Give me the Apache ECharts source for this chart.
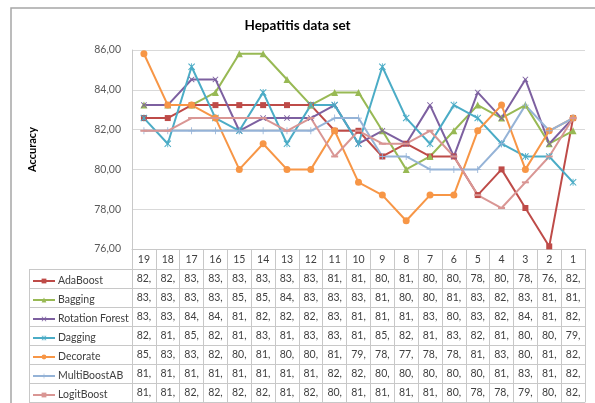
<!DOCTYPE html>
<html>
<head>
<meta charset="utf-8">
<style>
  html, body { margin: 0; padding: 0; background: #ffffff; }
  #chart { width: 595px; height: 403px; }
</style>
<script src="https://cdn.jsdelivr.net/npm/echarts@6/dist/echarts.min.js"></script>
</head>
<body>
<div id="chart"></div>
<script>
// Ensemble size (descending) and accuracy of each method on the Hepatitis data set
const categories = ['19','18','17','16','15','14','13','12','11','10','9','8','7','6','5','4','3','2','1'];
const adaBoost       = [82.58,82.58,83.23,83.23,83.23,83.23,83.23,83.23,81.94,81.94,80.65,81.29,80.65,80.65,78.71,80.00,78.06,76.13,82.58];
const bagging        = [83.23,83.23,83.23,83.87,85.81,85.81,84.52,83.23,83.87,83.87,81.94,80.00,80.65,81.94,83.23,82.58,83.23,81.29,81.94];
const rotationForest = [83.23,83.23,84.52,84.52,81.94,82.58,82.58,82.58,83.23,81.29,81.94,81.29,83.23,80.65,83.87,82.58,84.52,81.29,82.58];
const dagging        = [82.58,81.29,85.16,82.58,81.94,83.87,81.29,83.23,83.23,81.29,85.16,82.58,81.29,83.23,82.58,81.29,80.65,80.65,79.35];
const decorate       = [85.81,83.23,83.23,82.58,80.00,81.29,80.00,80.00,81.94,79.35,78.71,77.42,78.71,78.71,81.94,83.23,80.00,81.94,82.58];
const multiBoostAB   = [81.94,81.94,81.94,81.94,81.94,81.94,81.94,81.94,82.58,82.58,80.65,80.65,80.00,80.00,80.00,81.29,83.23,81.94,82.58];
const logitBoost     = [81.94,81.94,82.58,82.58,82.58,82.58,81.94,82.58,80.65,81.94,81.29,81.29,81.94,80.65,78.71,78.06,79.35,80.65,82.58];
const yTicks = { min: 76, max: 86, step: 2 };

const FONT = 'Lato, "Open Sans", sans-serif';
const LINE_GRAY = '#c8c8c8';
const GRID_GRAY = '#d9d9d9';

// plot geometry
const gridLeft = 132, gridRight = 10, gridTop = 50, gridBottom = 154;
const plotBottomY = 403 - gridBottom;   // 249
const headerH = 20, rowH = 19;

const SYM_X = 'path://M0,1L1,0L5,4L9,0L10,1L6,5L10,9L9,10L5,6L1,10L0,9L4,5Z';
const SYM_STAR = 'path://M0,1L1,0L4.4,3.4L4.4,0L5.6,0L5.6,3.4L9,0L10,1L6,5L10,9L9,10L5.6,6.6L5.6,10L4.4,10L4.4,6.6L1,10L0,9L4,5Z';
const SYM_PLUS = 'path://M4.4,0H5.6V4.4H10V5.6H5.6V10H4.4V5.6H0V4.4H4.4Z';
const SYM_DASH = 'path://M0,0H10V2H0Z';

const methods = [
  { name: 'AdaBoost',        data: adaBoost,       color: '#be4b48', symbol: 'rect',     size: 6 },
  { name: 'Bagging',         data: bagging,        color: '#98b954', symbol: 'triangle', size: 7 },
  { name: 'Rotation Forest', data: rotationForest, color: '#7d60a0', symbol: SYM_X,      size: 6 },
  { name: 'Dagging',         data: dagging,        color: '#4bacc6', symbol: SYM_STAR,   size: 7 },
  { name: 'Decorate',        data: decorate,       color: '#f79646', symbol: 'circle',   size: 7 },
  { name: 'MultiBoostAB',    data: multiBoostAB,   color: '#95b3d7', symbol: SYM_PLUS,   size: 7 },
  { name: 'LogitBoost',      data: logitBoost,     color: '#d99694', symbol: SYM_DASH,   size: [7, 2] }
];

// header axis (category numbers) plus one axis per data-table row
const xAxes = [{
  type: 'category', gridIndex: 0, position: 'bottom', offset: 0,
  data: categories, boundaryGap: true,
  axisLine: { show: true, lineStyle: { color: LINE_GRAY, width: 1 } },
  axisTick: { show: true, interval: 0, length: headerH, lineStyle: { color: LINE_GRAY } },
  axisLabel: { interval: 0, margin: 5, fontSize: 10.5, color: '#404040', fontFamily: FONT }
}];
methods.forEach((m, k) => {
  xAxes.push({
    type: 'category', gridIndex: 0, position: 'bottom', offset: headerH + rowH * k,
    data: categories, boundaryGap: true,
    axisLine: { show: true, lineStyle: { color: LINE_GRAY, width: 1 } },
    axisTick: { show: true, interval: 0, length: rowH, lineStyle: { color: LINE_GRAY } },
    axisLabel: {
      interval: 0, margin: 4, fontSize: 10.5, color: '#404040', fontFamily: FONT,
      formatter: (v, i) => Math.floor(m.data[i]) + ','
    }
  });
});
xAxes.push({
  type: 'category', gridIndex: 0, position: 'bottom', offset: headerH + rowH * methods.length,
  data: categories,
  axisLine: { show: true, lineStyle: { color: LINE_GRAY, width: 1 } },
  axisTick: { show: false }, axisLabel: { show: false }
});

// left column of the data table (legend keys live here)
const colLeft = 29;
const tableGraphics = [];
for (let k = 0; k <= methods.length; k++) {
  const y = plotBottomY + headerH + rowH * k + 0.5;
  tableGraphics.push({
    type: 'line', silent: true,
    shape: { x1: colLeft, y1: y, x2: gridLeft, y2: y },
    style: { stroke: LINE_GRAY, lineWidth: 1 }
  });
}
tableGraphics.push({
  type: 'line', silent: true,
  shape: { x1: colLeft + 0.5, y1: plotBottomY + headerH, x2: colLeft + 0.5, y2: 403 },
  style: { stroke: LINE_GRAY, lineWidth: 1 }
});
// chart area frame
tableGraphics.push({
  type: 'rect', silent: true,
  shape: { x: 11, y: 8, width: 620, height: 430 },
  style: { fill: 'none', stroke: '#a6a6a6', lineWidth: 1.5 }
});

// one legend per table row, so every key sits centred in its own row
const legendItemH = 6;
const legends = methods.map((m, k) => ({
  orient: 'horizontal', left: colLeft + 3,
  top: plotBottomY + headerH + rowH * k + (rowH - legendItemH) / 2,
  padding: 0, itemWidth: 22, itemHeight: legendItemH,
  selectedMode: false,
  textStyle: { fontSize: 10.5, color: '#404040', fontFamily: FONT, padding: [0, 0, 0, -2] },
  data: [m.name]
}));

const option = {
  animation: false,
  backgroundColor: '#ffffff',
  title: {
    text: 'Hepatitis data set', left: 'center', top: 19, padding: 0,
    textStyle: { fontSize: 13.5, fontWeight: 'bold', color: '#000000', fontFamily: FONT }
  },
  legend: legends,
  grid: { left: gridLeft, right: gridRight, top: gridTop, bottom: gridBottom, containLabel: false },
  xAxis: xAxes,
  yAxis: {
    type: 'value', min: yTicks.min, max: yTicks.max, interval: yTicks.step,
    name: 'Accuracy', nameLocation: 'middle', nameRotate: 90, nameGap: 94,
    nameTextStyle: { fontSize: 11, fontWeight: 'bold', color: '#000000', fontFamily: FONT },
    axisLine: { show: true, lineStyle: { color: LINE_GRAY, width: 1 } },
    axisTick: { show: false },
    splitLine: { show: true, lineStyle: { color: GRID_GRAY, width: 1.2 } },
    axisLabel: {
      margin: 11, fontSize: 10.5, color: '#595959', fontFamily: FONT,
      formatter: v => v.toFixed(2).replace('.', ',')
    }
  },
  graphic: tableGraphics,
  series: methods.map(m => ({
    name: m.name, type: 'line', xAxisIndex: 0, yAxisIndex: 0,
    data: m.data,
    symbol: m.symbol, symbolSize: m.size, showAllSymbol: true,
    lineStyle: { color: m.color, width: 2 },
    itemStyle: { color: m.color },
    emphasis: { disabled: true }
  }))
};

const chart = echarts.init(document.getElementById('chart'), null, { renderer: 'canvas' });
chart.setOption(option);
</script>
</body>
</html>
